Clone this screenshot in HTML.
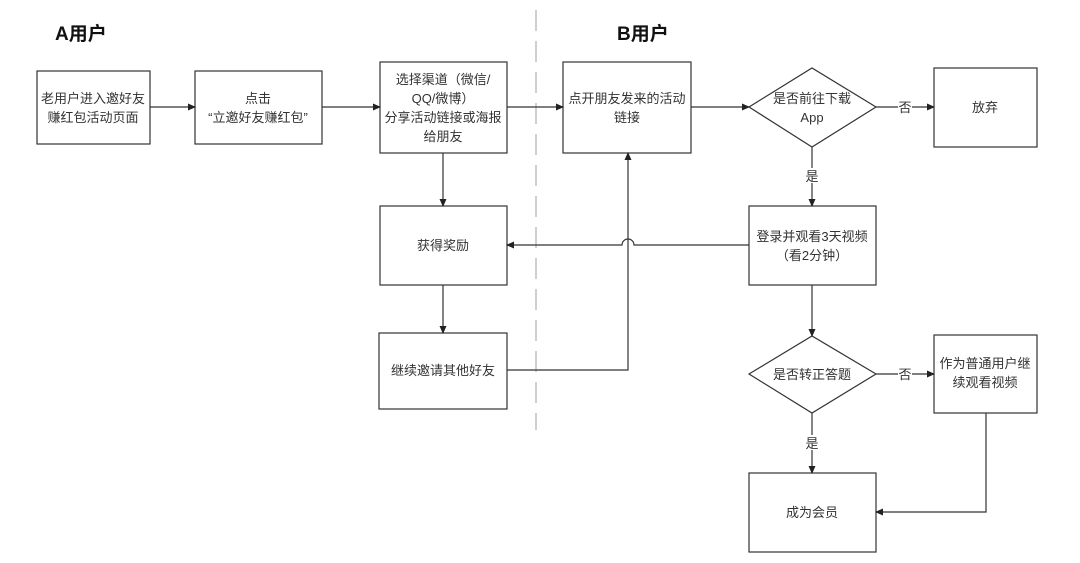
<!DOCTYPE html>
<html><head><meta charset="utf-8"><style>
html,body{margin:0;padding:0;background:#fff;}
svg{display:block;}
text{font-family:"Liberation Sans","Noto Sans CJK SC",sans-serif;font-size:13px;fill:#333;}
.t{font-size:19px;font-weight:bold;fill:#111;}
</style></head><body>
<svg width="1080" height="563" viewBox="0 0 1080 563" xmlns="http://www.w3.org/2000/svg">
<defs><marker id="a" markerWidth="8" markerHeight="8" refX="7" refY="4" orient="auto" markerUnits="userSpaceOnUse"><path d="M0,0.5 L8,4 L0,7.5z" fill="#222"/></marker></defs>
<line x1="536" y1="10" x2="536" y2="430" stroke="#cfcfcf" stroke-width="2" stroke-dasharray="21,10"/>
<text x="55" y="40" class="t">A用户</text>
<text x="617" y="40" class="t">B用户</text>
<g fill="#fff" stroke="#333" stroke-width="1.2">
<rect x="37" y="71" width="113" height="73"/>
<rect x="195" y="71" width="127" height="73"/>
<rect x="380" y="62" width="127" height="91"/>
<rect x="380" y="206" width="127" height="79"/>
<rect x="379" y="333" width="128" height="76"/>
<rect x="563" y="62" width="128" height="91"/>
<polygon points="749,107 812,68 876,107 812,147"/>
<rect x="934" y="68" width="103" height="79"/>
<rect x="749" y="206" width="127" height="79"/>
<polygon points="749,374 812,336 876,374 812,413"/>
<rect x="934" y="335" width="103" height="78"/>
<rect x="749" y="473" width="127" height="79"/>
</g>
<g stroke="#333" stroke-width="1.2" fill="none">
<line x1="150" y1="107" x2="195" y2="107" marker-end="url(#a)"/>
<line x1="322" y1="107" x2="380" y2="107" marker-end="url(#a)"/>
<line x1="507" y1="107" x2="563" y2="107" marker-end="url(#a)"/>
<line x1="691" y1="107" x2="749" y2="107" marker-end="url(#a)"/>
<line x1="876" y1="107" x2="898" y2="107"/>
<line x1="912" y1="107" x2="934" y2="107" marker-end="url(#a)"/>
<line x1="443" y1="153" x2="443" y2="206" marker-end="url(#a)"/>
<line x1="443" y1="285" x2="443" y2="333" marker-end="url(#a)"/>
<line x1="812" y1="147" x2="812" y2="168"/>
<line x1="812" y1="183" x2="812" y2="206" marker-end="url(#a)"/>
<path d="M749,245 L634,245 A6,6 0 0 0 622,245 L507,245" marker-end="url(#a)"/>
<path d="M507,370 L628,370 L628,153" marker-end="url(#a)"/>
<line x1="812" y1="285" x2="812" y2="336" marker-end="url(#a)"/>
<line x1="876" y1="374" x2="898" y2="374"/>
<line x1="912" y1="374" x2="934" y2="374" marker-end="url(#a)"/>
<line x1="812" y1="413" x2="812" y2="435"/>
<line x1="812" y1="450" x2="812" y2="473" marker-end="url(#a)"/>
<path d="M986,413 L986,512 L876,512" marker-end="url(#a)"/>
</g>
<g text-anchor="middle">
<text x="93" y="103">老用户进入邀好友</text>
<text x="93" y="122">赚红包活动页面</text>
<text x="258" y="103">点击</text>
<text x="258" y="122">“立邀好友赚红包”</text>
<text x="443" y="84">选择渠道（微信/</text>
<text x="443" y="103">QQ/微博）</text>
<text x="443" y="122">分享活动链接或海报</text>
<text x="443" y="141">给朋友</text>
<text x="443" y="250">获得奖励</text>
<text x="443" y="375">继续邀请其他好友</text>
<text x="627" y="103">点开朋友发来的活动</text>
<text x="627" y="122">链接</text>
<text x="812" y="103">是否前往下载</text>
<text x="812" y="122">App</text>
<text x="905" y="112">否</text>
<text x="985" y="112">放弃</text>
<text x="812" y="181">是</text>
<text x="812" y="241">登录并观看3天视频</text>
<text x="812" y="260">（看2分钟）</text>
<text x="812" y="379">是否转正答题</text>
<text x="905" y="379">否</text>
<text x="985" y="368">作为普通用户继</text>
<text x="985" y="387">续观看视频</text>
<text x="812" y="448">是</text>
<text x="812" y="517">成为会员</text>
</g>
</svg>
</body></html>
